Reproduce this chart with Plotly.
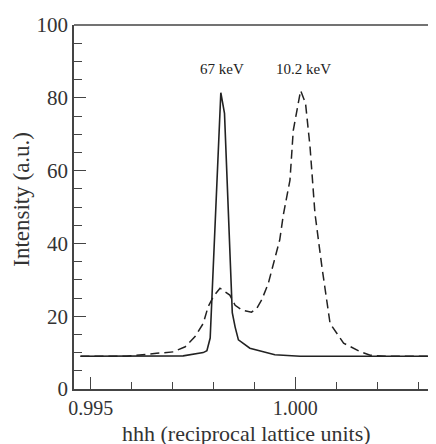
import plotly.graph_objects as go

# 67 keV scan (solid)
hhh_67 = [0.99475, 0.99726, 0.99775, 0.99784, 0.99792, 0.99798, 0.99818,
          0.99827, 0.99843, 0.99846, 0.99853, 0.99861, 0.99889, 0.99918,
          0.99950, 1.00012, 1.00324]
int_67 = [9.0, 9.1, 10.0, 10.5, 14.0, 30.0, 81.4, 75.7, 30.0, 21.0, 17.0,
          13.5, 11.2, 10.3, 9.4, 9.0, 9.0]

# 10.2 keV scan (dashed)
hhh_102 = [0.99475, 0.99588, 0.99661, 0.99702, 0.99731, 0.99755, 0.99775,
           0.99787, 0.99800, 0.99816, 0.99828, 0.99840, 0.99853, 0.99869,
           0.99893, 0.99906, 0.99918, 0.99934, 0.99962, 0.99971, 0.99987,
           0.99995, 1.00013, 1.00025, 1.00036, 1.00048, 1.00065, 1.00085,
           1.00118, 1.00158, 1.00183, 1.00220, 1.00324]
int_102 = [9.0, 9.0, 9.8, 10.2, 11.6, 14.4, 18.0, 22.6, 25.4, 27.7, 26.7,
           25.8, 23.0, 21.7, 21.1, 22.2, 24.5, 29.0, 41.0, 48.0, 57.4, 71.0,
           82.0, 78.5, 66.6, 48.3, 33.6, 18.0, 12.6, 10.3, 9.3, 9.0, 9.0]

labels = ["67 keV", "10.2 keV"]
label_x = [0.99821, 1.00019]

font_family = "Liberation Serif, Times New Roman, serif"
ink = "#222222"
axis_col = "#444444"

fig = go.Figure()
fig.add_trace(go.Scatter(x=hhh_67, y=int_67, mode="lines",
                         line=dict(color=ink, width=1.6)))
fig.add_trace(go.Scatter(x=hhh_102, y=int_102, mode="lines",
                         line=dict(color=ink, width=1.5, dash="9px,5px")))

for txt, xv in zip(labels, label_x):
    fig.add_annotation(x=xv, y=88, text=txt, showarrow=False,
                       font=dict(family=font_family, size=15, color=ink))

# axis titles as annotations so they sit where the original has them
fig.add_annotation(xref="paper", yref="paper", x=-0.146, y=0.52,
                   text="Intensity (a.u.)", textangle=-90, showarrow=False,
                   xanchor="center", yanchor="middle",
                   font=dict(family=font_family, size=23, color="#333333"))
fig.add_annotation(xref="paper", yref="paper", x=0.485, y=-0.121,
                   text="hhh (reciprocal lattice units)", showarrow=False,
                   xanchor="center", yanchor="middle",
                   font=dict(family=font_family, size=22, color="#333333"))

# top frame line runs to the right edge of the picture
fig.add_shape(type="line", xref="paper", yref="paper", x0=0, x1=1.02,
              y0=1, y1=1, line=dict(color=axis_col, width=1.6))

# page body has an 8px margin, so the figure is 8px smaller each way
fig.update_layout(
    width=428, height=436,
    margin=dict(l=66, r=6, t=17, b=55),
    showlegend=False,
    plot_bgcolor="white", paper_bgcolor="white",
    font=dict(family=font_family, size=21, color="#333333"),
    xaxis=dict(
        range=[0.994592, 1.003292],
        tick0=0.995, dtick=0.005, tickformat=".3f",
        tickfont=dict(size=20),
        ticks="inside", ticklen=12, tickwidth=1.3, tickcolor=axis_col,
        minor=dict(dtick=0.001, ticks="inside", ticklen=7, tickwidth=1.3,
                   tickcolor=axis_col),
        showline=True, linecolor=axis_col, linewidth=1.6,
        showgrid=False, zeroline=False,
    ),
    yaxis=dict(
        range=[0, 100],
        tick0=0, dtick=20,
        ticks="inside", ticklen=12, tickwidth=1.3, tickcolor=axis_col,
        minor=dict(dtick=5, ticks="inside", ticklen=8, tickwidth=1.3,
                   tickcolor=axis_col),
        showline=True, linecolor=axis_col, linewidth=1.6,
        showgrid=False, zeroline=False,
    ),
)

fig.write_html("out.html")
